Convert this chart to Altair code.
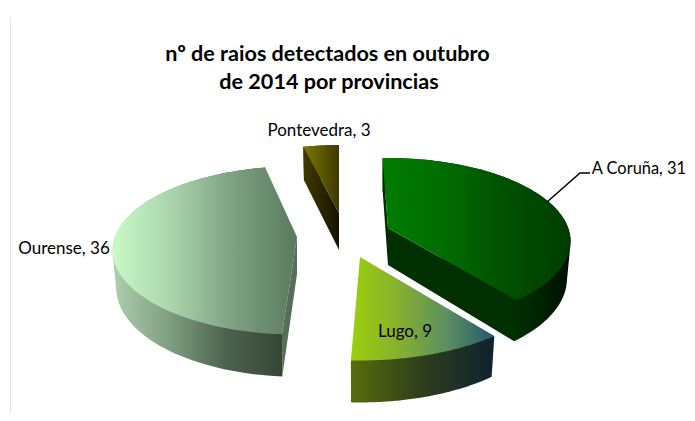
import math
import altair as alt
import pandas as pd

# --- data ---
provinces = ["A Coruña", "Lugo", "Ourense", "Pontevedra"]
counts = [31, 9, 36, 3]
title_lines = ["nº de raios detectados en outubro", "de 2014 por provincias"]

# --- pie styling (exploded 3D look) ---
tips = {"A Coruña": (388, 228), "Lugo": (360, 257), "Ourense": (297, 237), "Pontevedra": (339, 213)}
scales = {"A Coruña": 0.99, "Lugo": 1.06, "Ourense": 1.0, "Pontevedra": 0.96}
nudge = {"A Coruña": (-2, 0), "Lugo": (1.3, 0), "Ourense": (1.7, 2), "Pontevedra": (0, 0)}
A, B, K, DEPTH = 182, 82, 0.16, 37

def grad(*cols):
    n = len(cols) - 1
    return {"gradient": "linear", "x1": 0, "y1": 0, "x2": 1, "y2": 0,
            "stops": [{"offset": i / n, "color": c} for i, c in enumerate(cols)]}

fills = {
    "A Coruña": dict(top=grad("#007c00", "#006c00", "#005000", "#003c00"),
                     wall=grad("#003000", "#003000", "#003000", "#002d00", "#000f00"),
                     sides=[(0, "#002c00"), (-1, "#003000")]),
    "Lugo": dict(top=grad("#9ccf0c", "#86b030", "#5c8f60", "#25586e"),
                 wall=grad("#566e0c", "#2e3d1c", "#0e2230"), sides=[]),
    "Ourense": dict(top=grad("#c8fac8", "#a8d2aa", "#7c9f80", "#5a7a5e"),
                    wall=grad("#aed0ae", "#7f9f80", "#4d634f", "#364636"), sides=[(0, "#566e58")]),
    "Pontevedra": dict(top=grad("#7d7800", "#3e3a00"), wall=grad("#403a00", "#151300"),
                       sides=[(0, grad("#403a00", "#151300"))]),
}

label_text = ["Pontevedra, 3", "Ourense, 36", "Lugo, 9"]
label_x = [319, 64, 405]
label_y = [131, 249, 332]
coruna_label = "A Coruña, 31"
leader_x = [547, 580, 590]
leader_y = [202, 173, 173]
edge_x = [10.5, 10.5]
edge_y = [18, 413]

W, H = 679, 405
xs = alt.Scale(domain=[8, 8 + W], range=[0, W])
ys = alt.Scale(domain=[8, 8 + H], range=[0, H])
X = lambda f="x": alt.X(f"{f}:Q", scale=xs, axis=None)
Y = lambda f="y": alt.Y(f"{f}:Q", scale=ys, axis=None)

def proj(name, deg, low=False):
    t = math.radians(deg)
    s = 1 / (1 + K * math.cos(t))
    x = A * math.sin(t) * s * scales[name]
    y = -B * math.cos(t) * s * scales[name]
    if low:
        x *= 0.98
        y = y * 0.98 + DEPTH * s
    return tips[name][0] + x, tips[name][1] + y

def hull(points):
    pts = sorted(set(points))
    def half(seq):
        out = []
        for p in seq:
            while len(out) > 1 and (out[-1][0] - out[-2][0]) * (p[1] - out[-2][1]) - (out[-1][1] - out[-2][1]) * (p[0] - out[-2][0]) <= 0:
                out.pop()
            out.append(p)
        return out[:-1]
    return half(pts) + half(pts[::-1])

def poly(pts, fill):
    df = pd.DataFrame(pts + pts[:1], columns=["x", "y"]).reset_index(names="i")
    return alt.Chart(df).mark_line(fill=fill, strokeWidth=0, strokeOpacity=0).encode(
        x=X(), y=Y(), order="i:Q")

total = sum(counts)
angles = {}
cum = 0
for p, c in zip(provinces, counts):
    a0 = cum / total * 360
    cum += c
    a1 = cum / total * 360
    angles[p] = (a0 + nudge[p][0], a1 + nudge[p][1])

layers = [alt.Chart(pd.DataFrame({"x": edge_x, "y": edge_y})).mark_line(color="#e6e6e6", strokeWidth=1).encode(x=X(), y=Y())]

for p in ["Pontevedra", "Ourense", "A Coruña", "Lugo"]:
    a0, a1 = angles[p]
    steps = [a0 + (a1 - a0) * i / 80 for i in range(81)]
    upper = [proj(p, d) for d in steps]
    lower = [proj(p, d, True) for d in steps]
    tip = tips[p]
    tip_low = (tip[0], tip[1] + DEPTH)
    f = fills[p]
    layers.append(poly(hull(upper + lower), f["wall"]))
    for k, side in f["sides"]:
        layers.append(poly([tip, upper[k], lower[k], tip_low], side))
    layers.append(poly([tip] + upper, f["top"]))

layers.append(alt.Chart(pd.DataFrame({"x": leader_x, "y": leader_y, "i": [0, 1, 2]})).mark_line(color="#000000", strokeWidth=1.5).encode(x=X(), y=Y(), order="i:Q"))

text_df = pd.DataFrame({"x": label_x, "y": label_y, "t": label_text})
layers.append(alt.Chart(text_df).mark_text(font="Lato", fontSize=17, color="#000000", align="center", baseline="middle").encode(x=X(), y=Y(), text="t:N"))
coruna_df = pd.DataFrame({"x": [686], "y": [169], "t": [coruna_label]})
layers.append(alt.Chart(coruna_df).mark_text(font="Lato", fontSize=16.4, color="#000000", align="right", baseline="middle").encode(x=X(), y=Y(), text="t:N"))

title_df = pd.DataFrame({"x": [327.5, 329], "y": [55, 83], "t": title_lines})
layers.append(alt.Chart(title_df).mark_text(font="Lato", fontSize=21.6, fontWeight="bold", color="#000000", align="center", baseline="middle").encode(x=X(), y=Y(), text="t:N"))

chart = alt.layer(*layers).properties(
    width=W, height=H, padding=0, autosize=alt.AutoSizeParams(type="none")
).configure_view(stroke=None)

chart.save("out.html", embed_options={"renderer": "svg", "actions": False})
